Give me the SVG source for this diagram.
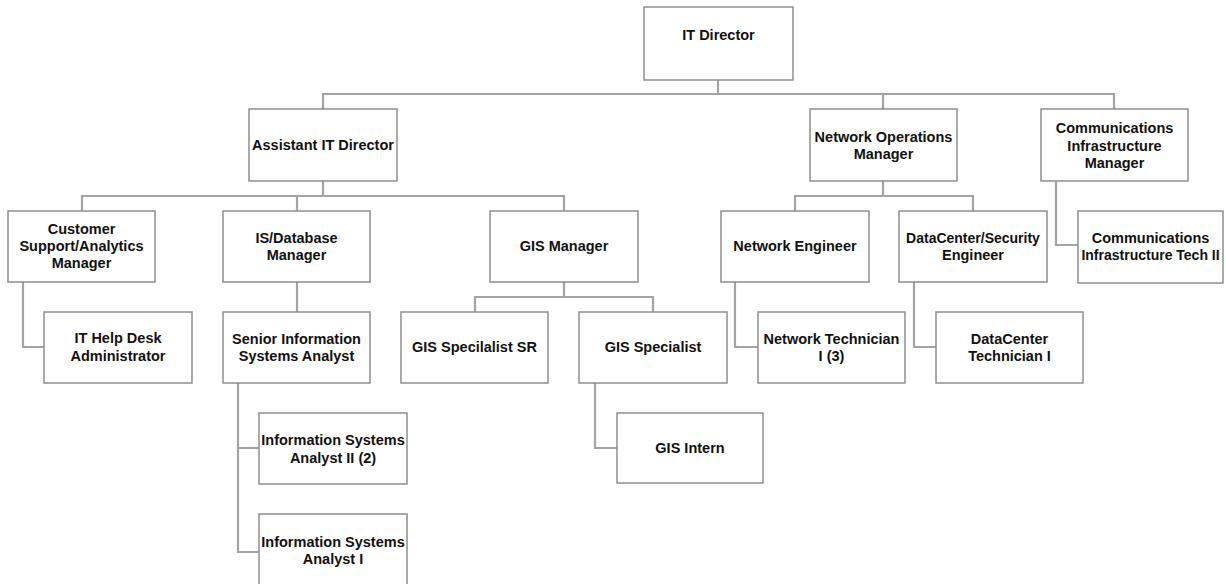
<svg xmlns="http://www.w3.org/2000/svg" width="1226" height="584" viewBox="0 0 1226 584">
  <style>
    .box { fill: #ffffff; stroke: #8e8e8e; stroke-width: 1.5; }
    .lbl { font-family: "Liberation Sans", Arial, sans-serif; font-weight: bold; font-size: 14.5px; fill: #111111; text-anchor: middle; }
    .tight { font-size: 14px; }
    .wire { fill: none; stroke: #a3a3a3; stroke-width: 2.2; }
  </style>
  <rect width="1226" height="584" fill="#ffffff"/>

  <!-- reporting lines -->
  <g id="connectors">
    <path class="wire" d="M323,109 V94 H1114 V109"/>
    <path class="wire" d="M718,80 V94"/>
    <path class="wire" d="M883,94 V109"/>
    <path class="wire" d="M323,181 V196"/>
    <path class="wire" d="M82,211 V196 H564 V211"/>
    <path class="wire" d="M297,196 V211"/>
    <path class="wire" d="M23,282 V347 H44"/>
    <path class="wire" d="M297,282 V312"/>
    <path class="wire" d="M238,383 V552 H259"/>
    <path class="wire" d="M238,448 H259"/>
    <path class="wire" d="M564,282 V297"/>
    <path class="wire" d="M475,312 V297 H653 V312"/>
    <path class="wire" d="M595,383 V448 H617"/>
    <path class="wire" d="M883,181 V196"/>
    <path class="wire" d="M795,211 V196 H973 V211"/>
    <path class="wire" d="M735,282 V347 H758"/>
    <path class="wire" d="M914,282 V347 H936"/>
    <path class="wire" d="M1056,181 V245 H1078"/>
  </g>

  <g id="it-director">
    <rect class="box" x="644" y="7" width="149" height="73"/>
    <text class="lbl" x="718.5" y="40">IT Director</text>
  </g>

  <g id="assistant-it-director">
    <rect class="box" x="249" y="109" width="148" height="72"/>
    <text class="lbl" x="323" y="150">Assistant IT Director</text>
  </g>

  <g id="network-operations-manager">
    <rect class="box" x="810" y="109" width="147" height="72"/>
    <text class="lbl" x="883.5" y="142">Network Operations</text>
    <text class="lbl" x="883.5" y="159">Manager</text>
  </g>

  <g id="communications-infrastructure-manager">
    <rect class="box" x="1041" y="109" width="147" height="72"/>
    <text class="lbl" x="1114.5" y="133">Communications</text>
    <text class="lbl" x="1114.5" y="151">Infrastructure</text>
    <text class="lbl" x="1114.5" y="168">Manager</text>
  </g>

  <g id="customer-support-manager">
    <rect class="box" x="8" y="211" width="147" height="71"/>
    <text class="lbl" x="81.5" y="234">Customer</text>
    <text class="lbl" x="81.5" y="251">Support/Analytics</text>
    <text class="lbl" x="81.5" y="268">Manager</text>
  </g>

  <g id="is-database-manager">
    <rect class="box" x="223" y="211" width="147" height="71"/>
    <text class="lbl" x="296.5" y="243">IS/Database</text>
    <text class="lbl" x="296.5" y="260">Manager</text>
  </g>

  <g id="gis-manager">
    <rect class="box" x="490" y="211" width="148" height="71"/>
    <text class="lbl" x="564" y="251">GIS Manager</text>
  </g>

  <g id="network-engineer">
    <rect class="box" x="721" y="211" width="148" height="71"/>
    <text class="lbl" x="795" y="251">Network Engineer</text>
  </g>

  <g id="datacenter-security-engineer">
    <rect class="box" x="899" y="211" width="148" height="71"/>
    <text class="lbl tight" x="973" y="243">DataCenter/Security</text>
    <text class="lbl" x="973" y="260">Engineer</text>
  </g>

  <g id="communications-infrastructure-tech">
    <rect class="box" x="1078" y="211" width="145" height="72"/>
    <text class="lbl" x="1150.5" y="243">Communications</text>
    <text class="lbl tight" x="1150.5" y="260">Infrastructure Tech II</text>
  </g>

  <g id="it-help-desk-administrator">
    <rect class="box" x="44" y="312" width="148" height="71"/>
    <text class="lbl" x="118" y="343">IT Help Desk</text>
    <text class="lbl" x="118" y="361">Administrator</text>
  </g>

  <g id="senior-information-systems-analyst">
    <rect class="box" x="223" y="312" width="147" height="71"/>
    <text class="lbl" x="296.5" y="344">Senior Information</text>
    <text class="lbl" x="296.5" y="361">Systems Analyst</text>
  </g>

  <g id="gis-specialist-sr">
    <rect class="box" x="401" y="312" width="147" height="71"/>
    <text class="lbl" x="474.5" y="352">GIS Specilalist SR</text>
  </g>

  <g id="gis-specialist">
    <rect class="box" x="579" y="312" width="148" height="71"/>
    <text class="lbl" x="653" y="352">GIS Specialist</text>
  </g>

  <g id="network-technician">
    <rect class="box" x="758" y="312" width="147" height="71"/>
    <text class="lbl" x="831.5" y="344">Network Technician</text>
    <text class="lbl" x="831.5" y="361">I (3)</text>
  </g>

  <g id="datacenter-technician">
    <rect class="box" x="936" y="312" width="147" height="71"/>
    <text class="lbl" x="1009.5" y="344">DataCenter</text>
    <text class="lbl" x="1009.5" y="361">Technician I</text>
  </g>

  <g id="information-systems-analyst-ii">
    <rect class="box" x="259" y="413" width="148" height="71"/>
    <text class="lbl" x="333" y="445">Information Systems</text>
    <text class="lbl" x="333" y="463">Analyst II (2)</text>
  </g>

  <g id="gis-intern">
    <rect class="box" x="617" y="413" width="146" height="70"/>
    <text class="lbl" x="690" y="453">GIS Intern</text>
  </g>

  <g id="information-systems-analyst-i">
    <rect class="box" x="259" y="514" width="148" height="71"/>
    <text class="lbl" x="333" y="547">Information Systems</text>
    <text class="lbl" x="333" y="564">Analyst I</text>
  </g>
</svg>
